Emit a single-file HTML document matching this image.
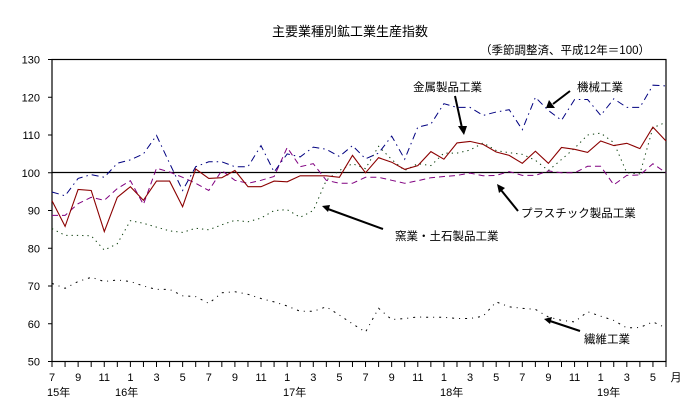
<!DOCTYPE html>
<html><head><meta charset="utf-8">
<style>
body{margin:0;background:#fff;width:690px;height:412px;overflow:hidden}
svg{display:block}
text{font-family:"Liberation Sans","Noto Sans CJK JP",sans-serif;fill:#000}
</style></head><body>
<svg id="s" width="690" height="412" xmlns="http://www.w3.org/2000/svg">
<text x="350" y="36" font-size="13" text-anchor="middle">主要業種別鉱工業生産指数</text>
<text x="650" y="54" font-size="11.5" text-anchor="end">（季節調整済、平成12年＝100）</text>
<rect x="52" y="59.5" width="614" height="302" fill="none" stroke="#000" stroke-width="1.2"/>
<line x1="52" y1="172.5" x2="666" y2="172.5" stroke="#000" stroke-width="1.2"/>
<g id="ax" font-size="11"></g>
<g id="ser"></g>
<g font-size="11.5">
<text x="413" y="91">金属製品工業</text>
<text x="577" y="91">機械工業</text>
<text x="521" y="217">プラスチック製品工業</text>
<text x="395" y="240">窯業・土石製品工業</text>
<text x="584" y="343">繊維工業</text>
</g>
<g stroke="#000" stroke-width="2" fill="#000">
<line x1="455" y1="96" x2="462" y2="128"/><polygon points="458,126 467,126 464,135" stroke="none"/>
<line x1="570" y1="91" x2="553" y2="104"/><polygon points="549,100 555,108 546,108" stroke="none"/>
<line x1="518" y1="211" x2="501" y2="190"/><polygon points="497,184 505,188 499,193" stroke="none"/>
<line x1="383" y1="229" x2="328" y2="209"/><polygon points="322,206 330,205 328,212" stroke="none"/>
<line x1="580" y1="331" x2="550" y2="321"/><polygon points="544,319 552,317 550,324" stroke="none"/>
</g>
</svg>
<script>
var NS="http://www.w3.org/2000/svg",s=document.getElementById('s');
function X(i){return 52+13.064*i}
function Y(v){return 361.5-(v-50)*3.775}
function el(t,a,p){var e=document.createElementNS(NS,t);for(var k in a)e.setAttribute(k,a[k]);(p||s).appendChild(e);return e}
var ax=document.getElementById('ax');
for(var v=50;v<=130;v+=10){el('line',{x1:48,x2:52,y1:Y(v),y2:Y(v),stroke:'#000'},ax);var t=el('text',{x:40,y:Y(v)+4,'text-anchor':'end'},ax);t.textContent=v;}
var m=7;
for(var i=0;i<=47;i++){el('line',{x1:X(i),x2:X(i),y1:361.5,y2:367,stroke:'#000'},ax);
 if(m%2==1){var t=el('text',{x:X(i),y:381,'text-anchor':'middle'},ax);t.textContent=m;}
 m=m%12+1;}
var t=el('text',{x:676,y:381,'text-anchor':'middle'},ax);t.textContent='月';
[[50,'15年'],[118,'16年'],[286,'17年'],[443,'18年'],[600,'19年']].forEach(function(a){var t=el('text',{x:a[0]-3,y:396},ax);t.textContent=a[1];});
var g=document.getElementById('ser');
var D={
metal:[92.6,85.8,95.6,95.3,84.4,93.5,96.3,92.7,97.8,97.8,91,101,98.5,98.7,100.6,96.3,96.3,97.8,97.6,99.2,99.2,99.2,98.8,104.6,100,104,102.8,100.9,101.9,105.6,103.6,107.9,108.3,107.5,105.5,104.6,102.5,105.7,102.5,106.7,106.2,105.4,108.4,107.2,107.8,106.4,112.1,108.4],
mach:[94.9,93.9,98.5,99.5,98.8,102.5,103.4,105,109.9,102.5,95.3,101.6,102.9,102.9,101.6,101.6,107.2,100.2,105,104.2,106.8,106.2,104.3,107.2,103.7,105.2,109.7,103.6,112.1,112.9,118.3,117.3,117.3,115.2,116.1,116.7,111.4,120,116.5,113.9,119.4,119.4,115.2,119.6,117.3,117.3,123.2,123],
plas:[88.7,88.7,91.8,93.5,92.7,95.8,97.9,91.6,101.2,100.2,98.8,97.2,95.3,100.6,98,97.2,98,99,106.7,101.6,102.4,98,97.2,97.2,98.8,98.8,98,97.2,97.9,98.7,99,99.3,99.9,99.2,99.3,100.3,99.3,99.3,100.5,100,100,101.7,101.7,96.8,99.3,99.4,102.4,100],
cer:[85.2,83.4,83.4,83.3,79.5,81.2,87.3,86.6,85.6,84.6,84.2,85.3,84.9,86.2,87.4,87,88,90,90.2,88.2,90,98,100.6,102.4,101.1,107,103.5,100.6,102.4,101.9,105.2,105.2,106,107.9,105.9,105.3,104.9,103.3,100.6,103.5,106.5,110,110.5,108,100,99.7,111.9,113.4],
tex:[70.7,69.4,71.2,72.3,71.2,71.6,71.2,70,69.1,69.1,67.4,67.2,65.4,68.2,68.5,67.8,66.7,65.8,64.7,63.3,63.3,64.5,62.3,60,57.8,64.1,61.1,61.4,61.8,61.7,61.7,61.4,61.4,62,65.8,64.5,64.1,63.8,61.8,60.9,60.5,63.2,62,60.9,58.9,59,60.5,58.9]};
function pl(d,c,da,w){el('polyline',{points:d.map(function(v,i){return X(i).toFixed(1)+','+Y(v).toFixed(1)}).join(' '),fill:'none',stroke:c,'stroke-width':w||1,'stroke-dasharray':da||'none'},g);}
pl(D.tex,'#000','2,5,1,5');
pl(D.cer,'#0a3d0a','1.3,4');
pl(D.plas,'#800080','6,4');
pl(D.mach,'#000080','7,4,1.5,4');
pl(D.metal,'#8b0000','',1.1);
</script>
</body></html>
